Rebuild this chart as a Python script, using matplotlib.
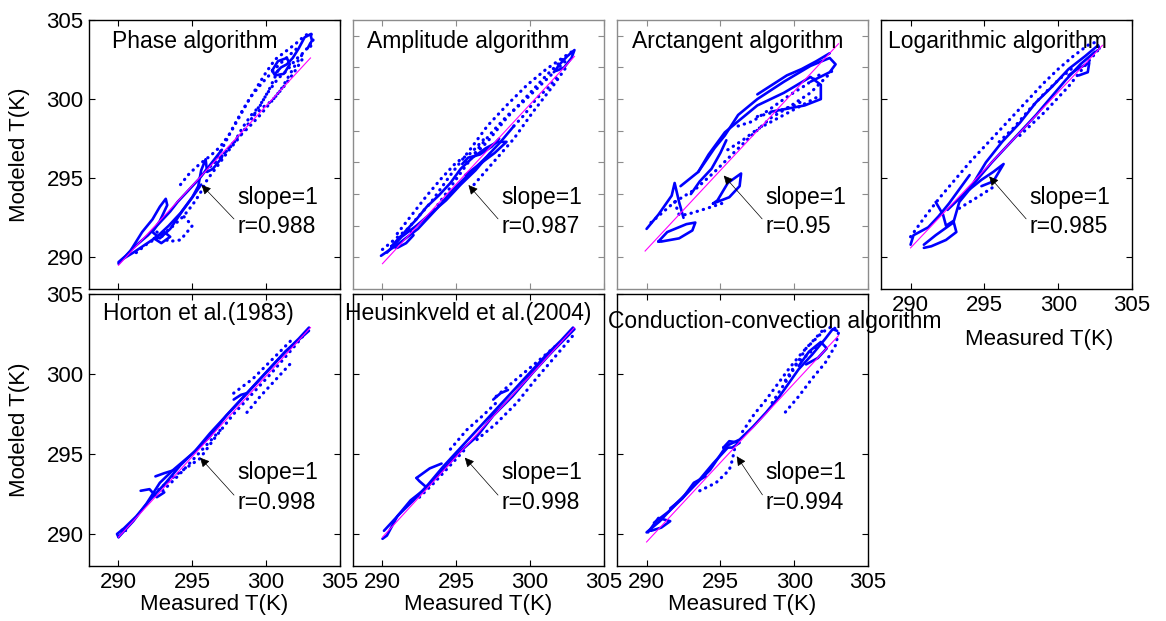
import matplotlib
matplotlib.use("Agg")
import matplotlib.pyplot as plt

plt.rcParams["font.family"] = ["Liberation Sans", "DejaVu Sans"]

# 各子图标题
titles = ["Phase algorithm", "Amplitude algorithm", "Arctangent algorithm",
          "Logarithmic algorithm", "Horton et al.(1983)",
          "Heusinkveld et al.(2004)", "Conduction-convection algorithm"]
r_values = ["0.988", "0.987", "0.95", "0.985", "0.998", "0.998", "0.994"]

# 拟合线端点 (x0, y0, x1, y1)
fit_lines = [(290, 289.5, 303, 302.6), (290, 289.6, 303, 302.7),
             (289.9, 290.4, 303, 303.5), (290, 290.6, 303, 303.4),
             (290, 289.8, 303, 302.9), (290, 289.8, 303, 302.9),
             (290, 289.5, 303, 302.4)]

# 箭头 (头 x, 头 y)
arrow_heads = [(295.5, 294.7), (295.7, 294.7), (295.1, 295.3), (295.2, 295.25),
               (295.4, 294.9), (295.45, 294.9), (296.0, 295.0)]

# ---- Phase algorithm ----
phase_solid = [
    [(290, 289.7), (290.5, 290.1), (291, 290.6), (291.5, 291.0), (292, 291.4),
     (292.5, 291.9), (293, 292.4), (293.5, 292.9), (294, 293.5), (294.5, 294.0),
     (295, 294.5), (295.5, 295.0), (296, 295.6), (296.5, 296.2), (297, 296.8)],
    [(290, 289.6), (290.8, 290.4), (291.6, 291.6), (292.3, 292.4), (292.8, 293.2),
     (293.2, 293.7), (293.3, 293.3), (292.8, 292.3), (292.3, 291.6), (292.8, 291.2),
     (293.5, 291.8), (294.3, 292.9), (295, 293.8), (295.4, 294.5), (295.6, 295.5),
     (295.9, 296.2), (296.0, 295.4), (296.4, 295.6), (297, 296.3)],
    [(290.3, 289.9), (291.0, 290.3), (291.8, 290.8), (292.6, 291.3), (293.4, 292.0),
     (294.2, 292.8), (295.0, 293.8), (295.6, 294.6)],
    [(292.4, 291.2), (292.9, 290.9), (293.5, 291.3), (293.1, 291.6), (292.4, 291.2)],
    [(300.6, 301.6), (301, 302.0), (301.4, 302.2), (301.8, 302.6), (302.2, 303.2),
     (302.6, 303.9), (303.0, 304.1), (303.1, 303.7), (302.8, 303.2)],
    [(300.4, 301.8), (300.8, 302.4), (301.4, 302.6), (301.6, 302.2), (301.2, 301.6),
     (300.6, 301.5), (300.4, 301.8)],
]
phase_dotted = [
    [(291.2, 290.3), (292, 290.9), (292.8, 291.3), (293.6, 291.9), (294.4, 292.6),
     (295, 293.3), (295.5, 294.0), (296, 294.9), (296.8, 295.9), (297.5, 296.8),
     (298.2, 297.6), (298.9, 298.6), (299.5, 299.5), (300.1, 300.4), (300.8, 301.3),
     (301.4, 301.8), (302, 302.5), (302.6, 303.0), (303.0, 303.5)],
    [(294.2, 294.6), (294.8, 295.3), (295.5, 295.9), (296.2, 296.4), (296.9, 297.0),
     (297.6, 297.9), (298.2, 298.9), (298.8, 299.9), (299.4, 300.8), (300, 301.7),
     (300.6, 302.5), (301.3, 303.0), (302, 303.5), (302.6, 304.0), (303, 304.2),
     (303.2, 303.8), (303, 303.3)],
    [(297, 296.4), (297.8, 297.2), (298.4, 298.2), (299, 299.0), (299.6, 299.6),
     (300.2, 300.6), (300.6, 301.4), (300.9, 302.0)],
    [(299.2, 299.0), (299.8, 299.5), (300.4, 299.9), (301.0, 300.6), (301.5, 301.4),
     (302, 302.2), (302.5, 302.9)],
    [(292.6, 291.6), (293.4, 291.0), (294.2, 291.1), (295.0, 292.0), (294.4, 292.6)],
    [(296.5, 296.0), (297.2, 297.2), (297.8, 298.3), (298.4, 299.3), (299.0, 300.2),
     (299.7, 301.0), (300.3, 301.6), (300.9, 302.2), (301.6, 302.8), (302.2, 303.3)],
    [(295.6, 295.2), (296.4, 295.9), (297.2, 296.6), (298.0, 297.5), (298.8, 298.2),
     (299.6, 299.0), (300.4, 299.9), (301.2, 300.8), (301.9, 301.7), (302.5, 302.6)],
]

# ---- Amplitude algorithm ----
amp_solid = [
    [(289.9, 290.1), (291, 290.8), (292.4, 291.8), (293.7, 293.1), (294.8, 294.3),
     (296, 295.4), (297.1, 296.4), (298, 297.3), (298.9, 298.3)],
    [(290.6, 290.7), (291.2, 291.3), (291.8, 291.8), (292.1, 291.4), (291.6, 290.9),
     (291.0, 290.6), (290.6, 290.7)],
    [(291.5, 291.6), (292.3, 292.4), (293.0, 293.2), (293.8, 293.9), (294.6, 294.7),
     (295.3, 295.6), (296.1, 296.3), (297.0, 296.9), (297.8, 297.3), (298.4, 297.3),
     (297.6, 296.6), (296.6, 295.9), (295.6, 295.2)],
    [(295.4, 295.9), (295.8, 296.3), (296.6, 296.5), (297.4, 297.0), (297.9, 297.5)],
    [(290.3, 290.3), (291.3, 291.3), (292.3, 292.0), (293.3, 292.8), (294.3, 293.6),
     (295.3, 294.6), (296.3, 295.5), (297.3, 296.6)],
    [(301.6, 301.7), (302.0, 302.2), (302.5, 302.7), (303.0, 303.1), (302.8, 302.6),
     (302.3, 302.0), (301.8, 301.8)],
]
amp_dotted = [
    [(290, 290.5), (291.7, 291.8), (293.3, 293.5), (294.6, 295.2), (296, 296.9),
     (297.1, 298.3), (298.4, 299.6), (299.8, 300.9), (301.1, 301.9), (302.5, 302.8),
     (303.0, 303.1)],
    [(296.2, 294.6), (297.5, 296), (298.9, 297.5), (300.2, 299.2), (301.6, 300.9),
     (302.5, 302.1)],
    [(295.7, 296), (297.1, 297.3), (298.4, 298.8), (299.8, 300.2), (301.1, 301.5),
     (302.2, 302.5)],
    [(298.9, 298.3), (299.6, 299.0), (300.4, 300.0), (301.2, 300.7), (301.9, 301.5)],
    [(293.5, 293.0), (294.5, 294.3), (295.5, 295.6), (296.5, 296.9), (297.5, 298.0),
     (298.5, 299.0), (299.5, 299.8), (300.5, 300.7), (301.5, 301.6), (302.5, 302.5)],
    [(291.0, 291.5), (292.0, 292.7), (293.0, 293.9), (294.0, 295.0), (295.0, 296.0),
     (296.0, 296.6), (297.0, 297.6)],
]

# ---- Arctangent algorithm ----
atan_solid = [
    [(290, 291.8), (290.8, 292.7), (291.7, 293.9), (291.9, 294.7), (292.2, 293.5),
     (292.5, 292.5)],
    [(292.3, 294.5), (293.5, 295.4), (294.6, 296.9), (295.3, 297.7), (296.2, 299),
     (297.5, 300), (299.3, 301.1), (301.1, 302.1), (302.4, 302.6), (302.8, 302.2),
     (302.4, 301.7), (301.1, 301.1)],
    [(293.5, 295.4), (294.2, 296.5), (295.3, 297.9), (296.2, 298.6), (297.5, 299.6),
     (299.3, 300.4), (301.1, 301.4), (301.8, 300.9), (301.8, 300), (300.7, 299.6),
     (298.4, 299.2)],
    [(290.8, 291), (291.4, 291.6), (292.7, 292.1), (293.3, 292.2), (293.1, 291.7),
     (292.2, 291.2), (291.0, 291.0), (290.8, 291)],
    [(294.5, 293.4), (294.8, 293.6), (295.5, 294.7), (296.4, 295.3), (296.3, 294.5),
     (295.6, 293.8), (294.5, 293.4)],
    [(293.0, 294.0), (293.6, 294.8), (294.4, 295.6), (295.0, 296.6), (295.4, 297.4)],
    [(297.5, 300.3), (298.5, 300.9), (299.5, 301.5), (300.5, 301.9), (301.5, 302.4),
     (302.4, 302.9)],
]
atan_dotted = [
    [(290.3, 292.2), (291.9, 293.5), (293.3, 294.3), (294.6, 295.4), (296, 296.7),
     (297.1, 297.7), (298.4, 298.8), (299.8, 299.6), (301.1, 300.4), (302.5, 301.7),
     (302.7, 302.1)],
    [(291.9, 293.5), (292.2, 292.7), (292.7, 292.7), (294.1, 293.1), (295.4, 293.5)],
    [(297.5, 298.9), (298.3, 299.1), (299.1, 299.3), (300.0, 299.6), (300.6, 299.9)],
    [(296.2, 298.3), (297.2, 298.6), (298.4, 299.4), (299.6, 300.2), (300.8, 300.9),
     (301.8, 301.6)],
    [(295.5, 296.8), (296.5, 297.4), (297.5, 298.1), (298.5, 298.6), (299.5, 299.1),
     (300.5, 299.6), (301.5, 300.1)],
]

# ---- Logarithmic algorithm ----
log_solid = [
    [(290.9, 290.8), (291.7, 291.4), (292.9, 292.2), (293.3, 293.5), (294, 294.3),
     (295.1, 296), (296.2, 297.3), (297.4, 298.5), (298.5, 299.8), (299.6, 300.8),
     (300.7, 301.9), (301.8, 302.7), (302.7, 303.4), (302.8, 303.2)],
    [(290, 290.8), (290.2, 291.4), (290.6, 291.6), (291.2, 291.9), (291.9, 292.6),
     (292.6, 293.4), (293.3, 294.3), (294.0, 295.2)],
    [(291.7, 293.5), (292.2, 292.7), (292.4, 292.0), (292.9, 292.3), (293.1, 291.6),
     (292.4, 291.1), (291.4, 290.7), (290.9, 290.6)],
    [(294, 294.3), (294.8, 294.9), (295.6, 295.4), (296.3, 295.9), (295.6, 294.8),
     (294.8, 294.5)],
    [(292.5, 293.0), (293.5, 293.9), (294.5, 294.9), (295.5, 296.0), (296.5, 297.0),
     (297.5, 298.0), (298.5, 299.0), (299.5, 300.1), (300.5, 301.2), (301.5, 302.2),
     (302.5, 303.0)],
    [(300.7, 301.5), (301.3, 301.9), (302.1, 302.3), (302.0, 301.7), (301.4, 301.5)],
]
log_dotted = [
    [(290, 291.3), (291, 292.6), (292, 293.8), (293, 294.9), (294, 296.0),
     (295, 297.0), (296, 298.0), (297, 299.0), (298, 300.0), (299, 301.0),
     (300, 301.9), (301, 302.7), (302, 303.4), (302.8, 303.7)],
    [(293.3, 293.1), (294.7, 293.9), (295.7, 294.5)],
    [(297.4, 297.7), (299.1, 299.2), (300.7, 300.8), (301.8, 302.1), (302.7, 303.1)],
    [(296.0, 297.3), (297.0, 298.2), (298.0, 299.3), (299.0, 300.3), (300.0, 301.2),
     (301.0, 302.0)],
]

# ---- Horton et al.(1983) ----
horton_solid = [
    [(290, 289.8), (291, 290.8), (291.9, 291.9), (292.8, 293.2), (293.7, 294),
     (295.1, 295.1), (296.2, 296.1), (297.3, 297.4), (298.7, 298.8), (300, 300.1),
     (301.3, 301.4), (302.9, 302.7)],
    [(290.2, 290.2), (291.2, 291.1), (292.2, 292.2), (293.2, 293.2), (294.2, 294.3),
     (295.2, 295.2), (296.2, 296.3), (297.2, 297.3), (298.2, 298.3), (299.2, 299.3),
     (300.2, 300.3), (301.2, 301.3), (302.2, 302.2), (302.9, 302.9)],
    [(290, 289.8), (289.9, 290.0), (290.3, 290.3), (290.5, 290.2)],
    [(291.5, 292.7), (292.1, 292.8), (292.6, 292.3), (293.1, 292.6)],
    [(292.5, 293.6), (293.1, 293.8), (293.8, 294.0)],
    [(297.8, 298.4), (298.3, 298.7), (298.7, 298.8)],
]
horton_dotted = [
    [(292.4, 292.5), (293.9, 293.7), (295.5, 294.7), (296.6, 296.1), (297.8, 297.5),
     (299.1, 298.8), (300.4, 300.1), (301.8, 301.6), (302.7, 302.6)],
    [(297.8, 298.8), (299.1, 299.7), (300.4, 300.9), (301.8, 302.2)],
    [(298.7, 297.6), (299.6, 298.6), (300.6, 299.6), (301.6, 300.6)],
    [(293.0, 292.7), (294.0, 293.6), (295.0, 294.6), (296.0, 295.6), (297.0, 296.6)],
]

# ---- Heusinkveld et al.(2004) ----
heus_solid = [
    [(290, 289.7), (290.3, 289.9), (291, 291.1), (291.9, 292.1), (293, 292.9),
     (294.1, 294), (295.2, 295.1), (296.4, 296.1), (297.5, 297.4), (298.8, 298.6),
     (300.2, 300.1), (301.5, 301.4), (303, 302.8)],
    [(290.1, 290.2), (291.1, 291.2), (292.1, 292.1), (293.1, 293.1), (294.1, 294.2),
     (295.1, 295.2), (296.1, 296.2), (297.1, 297.2), (298.1, 298.2), (299.1, 299.2),
     (300.1, 300.2), (301.1, 301.2), (302.1, 302.1), (302.9, 302.9)],
    [(292.3, 293.5), (293.2, 294.1), (294, 294.4)],
    [(293.0, 292.9), (292.5, 293.3), (292.3, 293.5)],
    [(297.5, 298.4), (298.0, 298.8), (298.5, 299)],
]
heus_dotted = [
    [(294.6, 295.3), (295.7, 296.5), (296.8, 297.4), (297.7, 298.2)],
    [(296.4, 295.9), (297.7, 296.9), (299.1, 298.2), (300.4, 299.7), (301.8, 301.2),
     (302.9, 302.4)],
    [(297.7, 298.6), (299.1, 299.7), (300.4, 300.7), (301.8, 301.8)],
    [(292.5, 292.3), (293.5, 293.2), (294.5, 294.2), (295.5, 295.2)],
]

# ---- Conduction-convection algorithm ----
cond_solid = [
    [(290, 290.1), (290.9, 290.8), (292, 291.9), (293.1, 292.9), (294.3, 294),
     (295.4, 295.5), (296.3, 295.9), (297.2, 296.7), (298.1, 297.6), (299, 298.6),
     (300.3, 300.3), (301.2, 301.2), (302.1, 302.2), (302.6, 302.8), (302.9, 302.7)],
    [(290.1, 290.1), (290.8, 291.0), (291.6, 290.8), (291.0, 290.4), (290.3, 290.2)],
    [(290.5, 290.7), (291.5, 291.4), (292.5, 292.3), (293.5, 293.3), (294.5, 294.4),
     (295.5, 295.4)],
    [(295.2, 295.4), (295.6, 295.8), (296.3, 295.7), (295.8, 295.4), (295.2, 295.4)],
    [(300.3, 300.5), (301.0, 301.4), (301.8, 302.0), (302.2, 301.6), (301.6, 301.0),
     (300.8, 300.6)],
    [(291.6, 291.6), (292.4, 292.2), (293.2, 293.2), (294.0, 293.6)],
]
cond_dotted = [
    [(293.6, 292.7), (294.7, 293.2), (295.6, 294), (295.8, 294.6), (296, 295.5)],
    [(298.5, 298.2), (299.7, 299.9), (300.8, 301.6), (301.9, 302.6), (302.6, 303),
     (303, 302.6), (302.8, 301.8), (302.1, 300.7), (301.2, 299.7), (300.3, 298.6),
     (299.2, 297.4)],
    [(299.4, 299.6), (300.1, 300.6), (300.9, 301.2), (301.7, 301.9)],
    [(296.5, 296.4), (297.3, 297.5), (298.1, 298.4), (298.9, 299.4), (299.7, 300.4),
     (300.5, 301.3), (301.3, 302.1), (302.0, 302.8)],
]

solid_sets = [phase_solid, amp_solid, atan_solid, log_solid,
              horton_solid, heus_solid, cond_solid]
dotted_sets = [phase_dotted, amp_dotted, atan_dotted, log_dotted,
               horton_dotted, heus_dotted, cond_dotted]

# 布局 (图像坐标换算)
col_left = [0.0763, 0.3027, 0.5292, 0.7556]
ax_w = 0.2153
row_bottom = [0.5346, 0.0886]
ax_h = [0.4332, 0.438]
title_x = [0.09, 0.056, 0.06, 0.028, 0.056, -0.03, -0.036]
title_y = [0.92, 0.92, 0.92, 0.92, 0.93, 0.93, 0.897]

fig = plt.figure(figsize=(11.66, 6.21), dpi=100)
blue = "#0000ff"

for i in range(7):
    row, col = divmod(i, 4)
    ax = fig.add_axes([col_left[col], row_bottom[row], ax_w, ax_h[row]])

    for path in solid_sets[i]:
        xs = [p[0] for p in path]
        ys = [p[1] for p in path]
        ax.plot(xs, ys, color=blue, lw=1.9, solid_capstyle="round")
    for path in dotted_sets[i]:
        xs = [p[0] for p in path]
        ys = [p[1] for p in path]
        ax.plot(xs, ys, color=blue, lw=2.3, linestyle=(0, (0.1, 1.9)),
                dash_capstyle="round")

    x0, y0, x1, y1 = fit_lines[i]
    ax.plot([x0, x1], [y0, y1], color="#ff00ff", lw=0.8)

    ax.set_xlim(288, 305)
    ax.set_ylim(288, 305)

    ax.text(title_x[i], title_y[i], titles[i], transform=ax.transAxes,
            fontsize=16.5, va="center", ha="left")
    ax.text(0.59, 0.342, "slope=1", transform=ax.transAxes,
            fontsize=16.5, va="center", ha="left")
    ax.text(0.59, 0.232, "r=" + r_values[i], transform=ax.transAxes,
            fontsize=16.5, va="center", ha="left")
    ax.annotate("", xy=arrow_heads[i], xytext=(297.95, 292.3),
                arrowprops=dict(arrowstyle="-|>", color="black", lw=0.5,
                                mutation_scale=14))

    if i in (1, 2):
        edge = "#8c8c8c"
        ax.set_yticks(range(290, 305, 2))
    else:
        edge = "black"
        ax.set_yticks([290, 295, 300, 305])
    ax.set_xticks([290, 295, 300, 305])
    for sp in ax.spines.values():
        sp.set_color(edge)
        sp.set_linewidth(1.0)
    ax.tick_params(direction="in", top=True, right=True, length=4,
                   color=edge, labelsize=16, pad=4)

    if col == 0:
        ax.set_ylabel("Modeled T(K)", fontsize=16, labelpad=12)
    else:
        ax.set_yticklabels([])
    if row == 1:
        ax.set_xlabel("Measured T(K)", fontsize=16, labelpad=1)
    elif col == 3:
        ax.set_xlabel("Measured T(K)", fontsize=16)
        ax.xaxis.set_label_coords(0.63, -0.15)
    else:
        ax.set_xticklabels([])

fig.savefig("out.png", dpi=100)
